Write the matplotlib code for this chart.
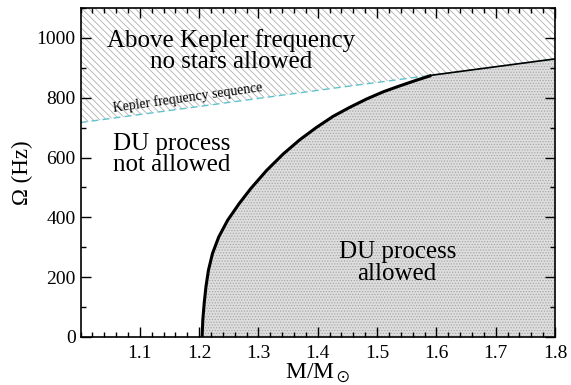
import numpy as np
import matplotlib
matplotlib.use("Agg")
import matplotlib.pyplot as plt

plt.rcParams["font.family"] = ["Liberation Serif", "DejaVu Serif"]
plt.rcParams["mathtext.fontset"] = "stix"
plt.rcParams["hatch.linewidth"] = 0.6

# Kepler (mass-shedding) frequency sequence
kep_mass = [1.0, 1.4, 1.8]
kep_freq = [717, 825, 930]

# DU onset boundary: frequency at which the DU threshold is reached
du_mass = [1.2050, 1.2062, 1.2085, 1.2115, 1.2157, 1.2225, 1.2330, 1.2480, 1.2675,
           1.2870, 1.3138, 1.3418, 1.370, 1.398, 1.426, 1.454, 1.4825, 1.5105,
           1.5386, 1.5668, 1.589]
du_freq = [0, 57, 112, 168, 223, 279, 334, 390, 446,
           496, 557, 612, 660, 701, 738, 768, 796, 820,
           840, 859, 873]

xlim = (1.0, 1.8)
ylim = (0, 1100)

fig = plt.figure(figsize=(5.71, 3.85), dpi=100)
ax = fig.add_axes([0.141, 0.125, 0.831, 0.854])

mk = np.linspace(xlim[0], xlim[1], 200)
fk = np.interp(mk, kep_mass, kep_freq)

# forbidden region above Kepler
ax.fill_between(mk, fk, ylim[1], facecolor="white", edgecolor="#b0b0b0",
                hatch="\\\\\\\\\\", linewidth=0, zorder=1)

# DU allowed region, right of the boundary and below Kepler
m_join = du_mass[-1]
m_tail = np.concatenate([[m_join], mk[mk > m_join]])
f_tail = np.interp(m_tail, kep_mass, kep_freq)
reg_m = np.concatenate([du_mass, m_tail[1:]])
reg_f = np.concatenate([du_freq, f_tail[1:]])
ax.fill_between(reg_m, 0, reg_f, facecolor="#dedede", edgecolor="#a8a8a8",
                hatch="......", linewidth=0, zorder=1)

ax.plot(mk, fk, color="#5fc3cc", lw=1.0, ls=(0, (5, 3)), zorder=3)
ax.plot(m_tail, f_tail, color="black", lw=1.2, zorder=4)
ax.plot(du_mass, du_freq, color="black", lw=2.2, zorder=4,
        solid_joinstyle="round")

ax.text(1.254, 957, "Above Kepler frequency\nno stars allowed", fontsize=18,
        ha="center", va="center", linespacing=0.95, zorder=5)
ax.text(1.057, 743, "Kepler frequency sequence", fontsize=10, rotation=8,
        rotation_mode="anchor", ha="left", va="bottom", zorder=5)
ax.text(1.055, 610, "DU process\nnot allowed", fontsize=18, ha="left", va="center",
        linespacing=0.95, zorder=5)
ax.text(1.534, 247, "DU process\nallowed", fontsize=18, ha="center", va="center",
        linespacing=0.95, zorder=5)

ax.set_xlim(*xlim)
ax.set_ylim(*ylim)
ax.set_xticks([1.1, 1.2, 1.3, 1.4, 1.5, 1.6, 1.7, 1.8])
ax.set_xticks(np.arange(1.0, 1.801, 0.02), minor=True)
ax.set_yticks([0, 200, 400, 600, 800, 1000])
ax.set_yticks(np.arange(0, 1101, 100), minor=True)
ax.tick_params(which="both", direction="in", top=True, right=True, labelsize=14, width=1)
ax.tick_params(which="major", length=7)
ax.tick_params(which="minor", length=3.5)
ax.tick_params(axis="x", pad=6)
for s in ax.spines.values():
    s.set_linewidth(1.2)
    s.set_zorder(6)

ax.set_xlabel(r"M/M$_\odot$", fontsize=17, labelpad=0)
ax.set_ylabel("Ω (Hz)", fontsize=16.5)
ax.yaxis.set_label_coords(-0.100, 0.5)

fig.savefig("out.png", dpi=100)
